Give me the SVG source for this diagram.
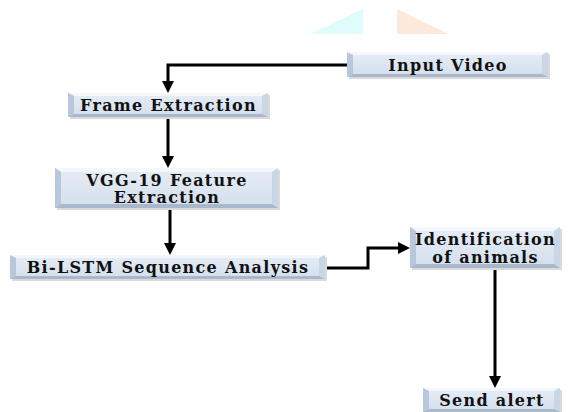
<svg xmlns="http://www.w3.org/2000/svg" width="573" height="412" viewBox="0 0 573 412">
<defs>
<style>
.face{fill:url(#g);}
.top{fill:#f4f7fb;}
.left{fill:#b8c8dc;}
.right{fill:#c9d6e6;}
.bot{fill:#a9b8cb;}
.shadow{fill:#dadada;}
.t{font-family:"DejaVu Serif",serif;font-weight:bold;font-size:16px;letter-spacing:1.3px;fill:#111;text-anchor:middle;}
.c{fill:none;stroke:#000;stroke-width:3;}
</style>
<linearGradient id="g" x1="0" y1="0" x2="0" y2="1">
<stop offset="0" stop-color="#e6edf6"/>
<stop offset="1" stop-color="#d3dfec"/>
</linearGradient>
<marker id="ah" markerWidth="4" markerHeight="4" refX="1" refY="2" orient="auto" markerUnits="strokeWidth">
<path d="M0,0 L4,2 L0,4 z" fill="#000"/>
</marker>
</defs>
<rect width="573" height="412" fill="#fff"/>
<polygon points="310,34 363,34 363,9" fill="#e0fbfb"/>
<polygon points="397,9 397,34 448,34" fill="#fde9d9"/>

<g id="connectors">
<path class="c" d="M347,65 H168 V84" marker-end="url(#ah)"/>
<path class="c" d="M168,117 V159" marker-end="url(#ah)"/>
<path class="c" d="M170,208 V246" marker-end="url(#ah)"/>
<path class="c" d="M325,268 H368 V248 H401" marker-end="url(#ah)"/>
<path class="c" d="M495,268 V379" marker-end="url(#ah)"/>
</g>

<g id="input-video">
<rect class="shadow" x="349" y="54" width="201" height="25"/>
<rect class="face" x="347" y="52" width="201" height="25"/>
<polygon class="top" points="347,52 548,52 542,55 353,55"/>
<polygon class="left" points="347,52 353,55 353,74 347,77"/>
<polygon class="right" points="548,52 542,55 542,74 548,77"/>
<polygon class="bot" points="347,77 353,74 542,74 548,77"/>
<text class="t" x="448" y="70.5">Input Video</text>
</g>

<g id="frame-extraction">
<rect class="shadow" x="70" y="95" width="200" height="24"/>
<rect class="face" x="68" y="93" width="200" height="24"/>
<polygon class="top" points="68,93 268,93 262,96 74,96"/>
<polygon class="left" points="68,93 74,96 74,114 68,117"/>
<polygon class="right" points="268,93 262,96 262,114 268,117"/>
<polygon class="bot" points="68,117 74,114 262,114 268,117"/>
<text class="t" x="168.5" y="111">Frame Extraction</text>
</g>

<g id="vgg19">
<rect class="shadow" x="57" y="170" width="223" height="40"/>
<rect class="face" x="55" y="168" width="223" height="40"/>
<polygon class="top" points="55,168 278,168 272,172 61,172"/>
<polygon class="left" points="55,168 61,172 61,204 55,208"/>
<polygon class="right" points="278,168 272,172 272,204 278,208"/>
<polygon class="bot" points="55,208 61,204 272,204 278,208"/>
<text class="t" x="167" y="185.5">VGG-19 Feature</text>
<text class="t" x="167" y="203">Extraction</text>
</g>

<g id="bilstm">
<rect class="shadow" x="12" y="257" width="315" height="24"/>
<rect class="face" x="10" y="255" width="315" height="24"/>
<polygon class="top" points="10,255 325,255 319,258 16,258"/>
<polygon class="left" points="10,255 16,258 16,276 10,279"/>
<polygon class="right" points="325,255 319,258 319,276 325,279"/>
<polygon class="bot" points="10,279 16,276 319,276 325,279"/>
<text class="t" x="168" y="273">Bi-LSTM Sequence Analysis</text>
</g>

<g id="identification">
<rect class="shadow" x="412" y="229" width="150" height="41"/>
<rect class="face" x="410" y="227" width="150" height="41"/>
<polygon class="top" points="410,227 560,227 554,231 416,231"/>
<polygon class="left" points="410,227 416,231 416,264 410,268"/>
<polygon class="right" points="560,227 554,231 554,264 560,268"/>
<polygon class="bot" points="410,268 416,264 554,264 560,268"/>
<text class="t" x="485.5" y="245">Identification</text>
<text class="t" x="485.5" y="262.5">of animals</text>
</g>

<g id="send-alert">
<rect class="shadow" x="425" y="390" width="137" height="24"/>
<rect class="face" x="423" y="388" width="137" height="24"/>
<polygon class="top" points="423,388 560,388 554,391 429,391"/>
<polygon class="left" points="423,388 429,391 429,409 423,412"/>
<polygon class="right" points="560,388 554,391 554,409 560,412"/>
<polygon class="bot" points="423,412 429,409 554,409 560,412"/>
<text class="t" x="492" y="406">Send alert</text>
</g>
</svg>
